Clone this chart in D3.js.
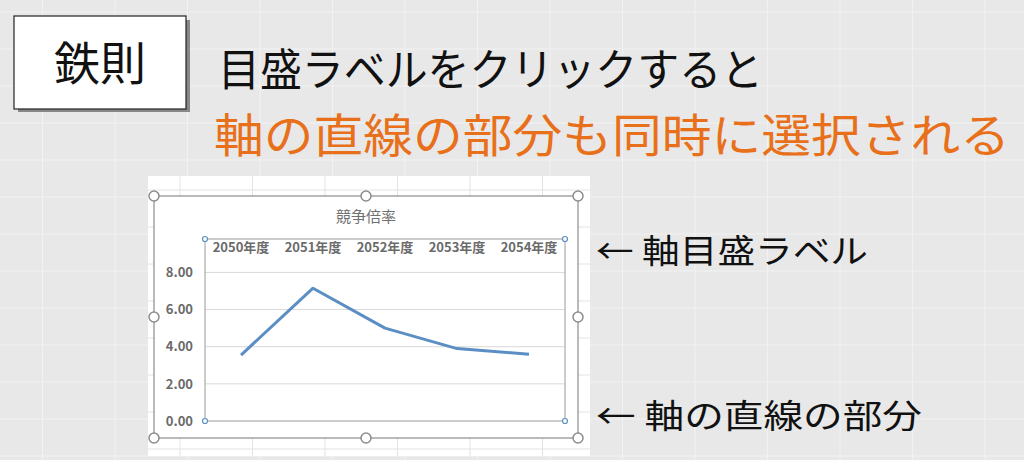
<!DOCTYPE html>
<html>
<head>
<meta charset="utf-8">
<script src="https://cdn.jsdelivr.net/npm/d3@7"></script>
<style>
  body { margin: 0; background: #e8e8e8; }
  text { font-family: "Noto Sans CJK JP", sans-serif; }
</style>
</head>
<body>
<svg id="chart" width="1024" height="460"></svg>
<script>
// chart data
const categories = ["2050年度", "2051年度", "2052年度", "2053年度", "2054年度"];
const values = [3.55, 7.15, 5.0, 3.9, 3.6];
const yTicks = [0, 2, 4, 6, 8];
const chartTitle = "競争倍率";

const svg = d3.select("#chart");
const W = 1024, H = 460;

// spreadsheet-like background grid
const bg = svg.append("g");
bg.append("rect").attr("width", W).attr("height", H).attr("fill", "#e8e8e8");
d3.range(-30, W, 72.5).forEach(x => bg.append("line")
  .attr("x1", x).attr("x2", x).attr("y1", 0).attr("y2", H)
  .attr("stroke", "#f2f2f2").attr("stroke-width", 1));
d3.range(12, H, 37).forEach(y => bg.append("line")
  .attr("x1", 0).attr("x2", W).attr("y1", y).attr("y2", y)
  .attr("stroke", "#f2f2f2").attr("stroke-width", 1));

// header box
svg.append("rect").attr("x", 18).attr("y", 20).attr("width", 172).attr("height", 92).attr("fill", "#888");
svg.append("rect").attr("x", 14).attr("y", 16).attr("width", 172).attr("height", 93)
  .attr("fill", "#fff").attr("stroke", "#222").attr("stroke-width", 1.2);
svg.append("text").attr("x", 100).attr("y", 80).attr("text-anchor", "middle")
  .attr("font-size", 46).attr("fill", "#111").text("鉄則");

svg.append("text").attr("x", 218).attr("y", 86).attr("font-size", 44).attr("fill", "#111")
  .attr("textLength", 545).attr("lengthAdjust", "spacingAndGlyphs").text("目盛ラベルをクリックすると");
svg.append("text").attr("x", 214).attr("y", 152).attr("font-size", 46).attr("fill", "#e8701a")
  .attr("textLength", 796).attr("lengthAdjust", "spacingAndGlyphs").text("軸の直線の部分も同時に選択される");

// sheet area
const sheet = svg.append("g");
sheet.append("rect").attr("x", 148).attr("y", 176).attr("width", 442).attr("height", 280).attr("fill", "#fff");
d3.range(180, 590, 72.5).forEach(x => sheet.append("line")
  .attr("x1", x).attr("x2", x).attr("y1", 176).attr("y2", 456).attr("stroke", "#e3e3e3"));
d3.range(190, 456, 37).forEach(y => sheet.append("line")
  .attr("x1", 148).attr("x2", 590).attr("y1", y).attr("y2", y).attr("stroke", "#e3e3e3"));

// chart frame
const fx0 = 154, fx1 = 578, fy0 = 196, fy1 = 438;
sheet.append("rect").attr("x", fx0).attr("y", fy0).attr("width", fx1 - fx0).attr("height", fy1 - fy0)
  .attr("fill", "#fff").attr("stroke", "#8c8c8c").attr("stroke-width", 1.2);

const m = { left: 205, right: 565, top: 239, bottom: 421 };
const x = d3.scaleBand().domain(categories).range([m.left, m.right]);
const y = d3.scaleLinear().domain([0, 9.8]).range([m.bottom, m.top]);

const plot = svg.append("g");
plot.selectAll(".grid").data(yTicks.slice(1)).join("line")
  .attr("x1", m.left).attr("x2", m.right)
  .attr("y1", d => y(d)).attr("y2", d => y(d))
  .attr("stroke", "#d9d9d9");

plot.append("rect").attr("x", m.left).attr("y", m.top)
  .attr("width", m.right - m.left).attr("height", m.bottom - m.top)
  .attr("fill", "none").attr("stroke", "#9a9a9a").attr("stroke-width", 1);

// y axis labels
const yAxis = plot.append("g").attr("transform", `translate(${m.left},0)`)
  .call(d3.axisLeft(y).tickValues(yTicks).tickFormat(d3.format(".2f")).tickSize(0).tickPadding(12));
yAxis.select(".domain").remove();
yAxis.selectAll("text").attr("font-size", 13).attr("font-weight", "bold").attr("fill", "#6a6a6a")
  .attr("font-family", "Noto Sans CJK JP");

// category labels at top
const xAxis = plot.append("g").attr("transform", `translate(0,${m.top})`)
  .call(d3.axisBottom(x).tickSize(0).tickPadding(4));
xAxis.select(".domain").remove();
xAxis.selectAll("text").attr("font-size", 13).attr("font-weight", "bold").attr("fill", "#6a6a6a")
  .attr("font-family", "Noto Sans CJK JP");

// line
plot.append("path").datum(values)
  .attr("d", d3.line().x((d, i) => x(categories[i]) + x.bandwidth() / 2).y(d => y(d)))
  .attr("fill", "none").attr("stroke", "#5b8fc4").attr("stroke-width", 3).attr("stroke-linejoin", "round");

svg.append("text").attr("x", (fx0 + fx1) / 2).attr("y", 222).attr("text-anchor", "middle")
  .attr("font-size", 15).attr("fill", "#707070").text(chartTitle);

// axis selection handles
[[m.left, m.top], [m.right, m.top], [m.left, m.bottom], [m.right, m.bottom]].forEach(([cx, cy]) =>
  svg.append("circle").attr("cx", cx).attr("cy", cy).attr("r", 2.5)
    .attr("fill", "#fff").attr("stroke", "#5b8fc4").attr("stroke-width", 1.2));

// chart frame handles
const hx = [fx0, (fx0 + fx1) / 2, fx1], hy = [fy0, (fy0 + fy1) / 2, fy1];
hx.forEach((cx, i) => hy.forEach((cy, j) => {
  if (i === 1 && j === 1) return;
  svg.append("circle").attr("cx", cx).attr("cy", cy).attr("r", 5)
    .attr("fill", "#fff").attr("stroke", "#8c8c8c").attr("stroke-width", 1.5);
}));

// annotations
svg.append("text").attr("x", 596).attr("y", 263).attr("font-size", 33).attr("fill", "#111")
  .attr("textLength", 272).attr("lengthAdjust", "spacingAndGlyphs").text("← 軸目盛ラベル");
svg.append("text").attr("x", 596).attr("y", 428).attr("font-size", 33).attr("fill", "#111")
  .attr("textLength", 326).attr("lengthAdjust", "spacingAndGlyphs").text("← 軸の直線の部分");
</script>
</body>
</html>
